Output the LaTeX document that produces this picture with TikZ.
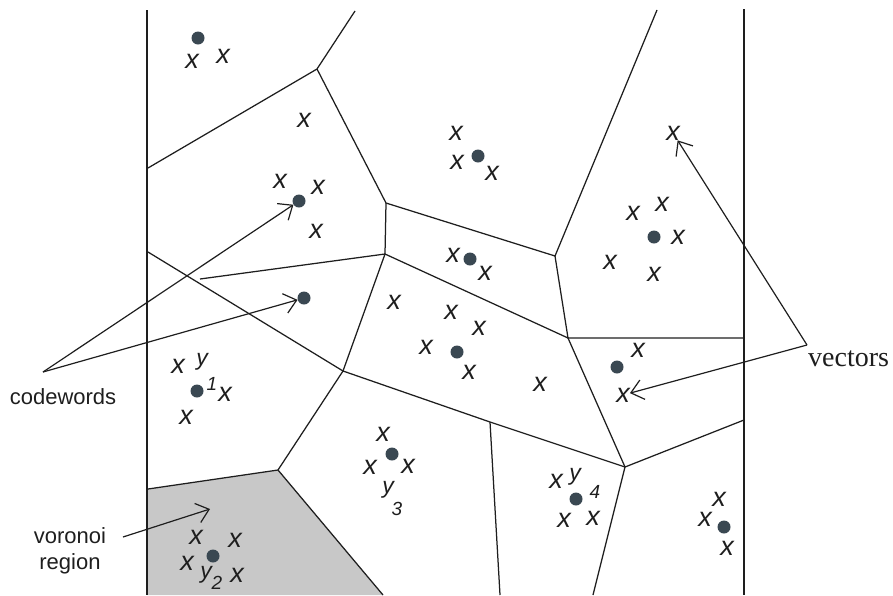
\documentclass[tikz,border=0pt]{standalone}
\usepackage{fontspec}
\usetikzlibrary{arrows.meta}
\newfontfamily\xsans{Liberation Sans}
\newfontfamily\xserif{Liberation Serif}
\definecolor{dotcol}{RGB}{58,72,82}
\definecolor{inkcol}{RGB}{30,30,30}
\definecolor{shadecol}{RGB}{200,200,200}
\tikzset{
  vedge/.style={line width=1.25pt, draw=inkcol},
  frameline/.style={line width=1.8pt, draw=inkcol},
  cw/.style={circle, fill=dotcol, inner sep=0pt, minimum size=13pt},
  xm/.style={inner sep=0pt, text=inkcol, font=\xsans\itshape\fontsize{27}{27}\selectfont},
  ylab/.style={inner sep=0pt, text=inkcol, font=\xsans\itshape\fontsize{23}{23}\selectfont},
  dlab/.style={inner sep=0pt, text=inkcol, font=\xsans\itshape\fontsize{19}{19}\selectfont},
  sanslab/.style={inner sep=0pt, text=inkcol, align=center, font=\xsans\fontsize{22}{26}\selectfont},
  seriflab/.style={inner sep=0pt, text=inkcol, font=\xserif\fontsize{28}{28}\selectfont},
  ptr/.style={line width=1.2pt, draw=inkcol, -{Straight Barb[length=12pt,width=20pt,line width=1.2pt]}}
}
\begin{document}
\begin{tikzpicture}[x=1pt,y=-1pt]
\useasboundingbox (0,0) rectangle (893,595);
% vertices
\coordinate (T1) at (355,11);
\coordinate (A) at (317,69);
\coordinate (L1) at (148,168);
\coordinate (B) at (386,203);
\coordinate (D) at (385,254);
\coordinate (P) at (200,279);
\coordinate (L2) at (148,252);
\coordinate (E) at (343,371);
\coordinate (F) at (278,470);
\coordinate (L3) at (148,489);
\coordinate (Bot1) at (383,595);
\coordinate (C) at (555,256);
\coordinate (T2) at (657,10);
\coordinate (H) at (568,338);
\coordinate (R1) at (744,338);
\coordinate (I) at (625,467);
\coordinate (R2) at (744,420);
\coordinate (Bot2) at (593,595);
\coordinate (J) at (490,422);
\coordinate (Bot3) at (500,595);
\coordinate (FL1) at (147,10);
\coordinate (FL2) at (147,595);
\coordinate (FR1) at (744,9);
\coordinate (FR2) at (744,595);
% shaded voronoi region
\fill[shadecol] (L3) -- (F) -- (Bot1) -- (FL2) -- cycle;
% frame
\draw[frameline] (FL1) -- (FL2);
\draw[frameline] (FR1) -- (FR2);
% voronoi edges
\draw[vedge] (T1) -- (A) -- (L1);
\draw[vedge] (A) -- (B) -- (C) -- (T2);
\draw[vedge] (B) -- (D) -- (P);
\draw[vedge] (D) -- (E) -- (F) -- (L3);
\draw[vedge] (L2) -- (E);
\draw[vedge] (F) -- (Bot1);
\draw[vedge] (C) -- (H) -- (R1);
\draw[vedge] (D) -- (H) -- (I) -- (R2);
\draw[vedge] (I) -- (Bot2);
\draw[vedge] (E) -- (J) -- (I);
\draw[vedge] (J) -- (Bot3);
% codewords
\node[cw] (c1) at (198,38) {};
\node[cw] (c2) at (299,201) {};
\node[cw] (c3) at (304,298) {};
\node[cw] (c4) at (478,156) {};
\node[cw] (c5) at (654,237) {};
\node[cw] (c6) at (470,259) {};
\node[cw] (c7) at (457,352) {};
\node[cw] (c8) at (617,367) {};
\node[cw] (c9) at (197,391) {};
\node[cw] (c10) at (392,454) {};
\node[cw] (c11) at (213,556) {};
\node[cw] (c12) at (576,499) {};
\node[cw] (c13) at (724,527) {};
% vectors
\foreach \a/\b [count=\i] in {192/61, 223/56, 304/120, 280/181, 318/187, 316/231,
  456/133, 457/162, 492/173, 633/213, 662/204, 678/237, 610/262, 654/274,
  453/255, 485/273, 394/302, 451/312, 479/328, 426/347, 469/372, 540/384,
  638/350, 178/366, 225/394, 186/417, 383/434, 370/467, 408/466,
  196/537, 235/540, 187/563, 237/575, 556/481, 564/520, 593/518,
  719/499, 705/519, 727/548}
  \node[xm] (x\i) at (\a,\b) {x};
\node[xm] (xv1) at (673,133) {x};
\node[xm] (xv2) at (623,395) {x};
% codeword labels
\node[ylab] (y1) at (202,362) {y};
\node[dlab] (n1) at (212,384) {1};
\node[ylab] (y2) at (206,575) {y};
\node[dlab] (n2) at (217,583) {2};
\node[ylab] (y3) at (388,490) {y};
\node[dlab] (n3) at (397,509) {3};
\node[ylab] (y4) at (575,477) {y};
\node[dlab] (n4) at (595,492) {4};
% side labels
\node[sanslab] (lcw) at (63,397) {codewords};
\node[sanslab] (lvr) at (70,551) {voronoi\\region};
\node[seriflab, anchor=west] (lvec) at (808,359) {vectors};
% pointers
\coordinate (cwsrc) at (43,372);
\coordinate (vrsrc) at (123,537);
\coordinate (vrtip) at (210,509);
\coordinate (vecsrc) at (807,345);
\draw[ptr] (cwsrc) -- (c2);
\draw[ptr] (cwsrc) -- (c3);
\draw[ptr] (vrsrc) -- (vrtip);
\draw[ptr] (vecsrc) -- (xv1);
\draw[ptr] (vecsrc) -- (xv2);
\end{tikzpicture}
\end{document}
